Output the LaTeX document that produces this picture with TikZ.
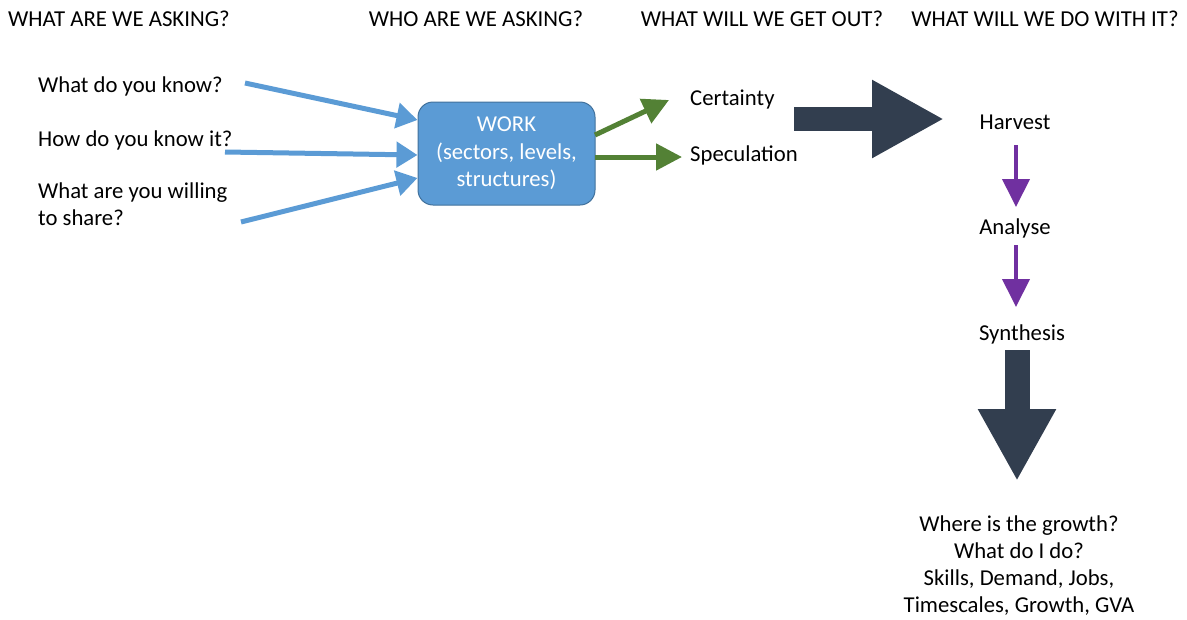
\documentclass[tikz,border=0pt]{standalone}
\usepackage{fontspec}
\setmainfont{Carlito}
\usetikzlibrary{arrows.meta}
\definecolor{blueA}{HTML}{5B9BD5}
\definecolor{blueB}{HTML}{41719C}
\definecolor{greenA}{HTML}{538135}
\definecolor{purpA}{HTML}{7030A0}
\definecolor{darkA}{HTML}{323E4F}
\tikzset{
  txt/.style={inner sep=0pt, font=\fontsize{22.7}{27}\selectfont, text=black},
  hdr/.style={inner sep=0pt, font=\fontsize{22.8}{26}\selectfont, text=black},
  bluearr/.style={draw=blueA, line width=5pt, -{Triangle[length=21pt,width=25pt]}},
  greenarr/.style={draw=greenA, line width=5pt, -{Triangle[length=26pt,width=26pt]}},
  purparr/.style={draw=purpA, line width=4pt, -{Triangle[length=28pt,width=27pt]}},
  bigarr/.style={draw=darkA, line width=24pt, -{Triangle[length=72pt,width=73pt]}},
  workbox/.style={fill=blueA, draw=blueB, line width=1pt, rounded corners=15pt,
    minimum width=177pt, minimum height=103pt, align=center, text=white,
    font=\fontsize{22.7}{27.5}\selectfont}
}
\begin{document}
\begin{tikzpicture}[x=1pt,y=-1pt]
\useasboundingbox (0,0) rectangle (1187,619);
% headers
\node[hdr, anchor=west] (h1) at (8,19) {WHAT ARE WE ASKING?};
\node[hdr] (h2) at (476,19) {WHO ARE WE ASKING?};
\node[hdr] (h3) at (762,19) {WHAT WILL WE GET OUT?};
\node[hdr] (h4) at (1045,19) {WHAT WILL WE DO WITH IT?};
% questions
\node[txt, anchor=west] (q1) at (38,86) {What do you know?};
\node[txt, anchor=west] (q2) at (38,140) {How do you know it?};
\node[txt, anchor=north west, align=left] (q3) at (38,183) {What are you willing\\to share?};
% work box
\node[workbox] (work) at (506.5,153.5) {WORK\\(sectors, levels,\\structures)};
% outputs
\node[txt, anchor=west] (cert) at (690,100) {Certainty};
\node[txt, anchor=west] (spec) at (690,155) {Speculation};
% right column
\node[txt] (harv) at (1015,122) {Harvest};
\node[txt] (anal) at (1015,228) {Analyse};
\node[txt] (synt) at (1022,334) {Synthesis};
\node[txt, align=center] (res) at (1019,566)
  {Where is the growth?\\What do I do?\\Skills, Demand, Jobs,\\Timescales, Growth, GVA};
% connector coordinates
\coordinate (b1s) at (245,83);
\coordinate (b2s) at (225,152);
\coordinate (b3s) at (241,222);
\coordinate (g1s) at (595,135);
\coordinate (g1e) at (669,100);
\coordinate (g2s) at (595,157);
\coordinate (g2e) at (682,157);
\coordinate (rs) at (794,119);
\coordinate (re) at (944,119);
\coordinate (p1s) at (1016,145);
\coordinate (p1e) at (1016,207);
\coordinate (p2s) at (1016,245);
\coordinate (p2e) at (1016,307);
\coordinate (ds) at (1017,350);
\coordinate (de) at (1017,481);
% connectors
\draw[bluearr] (b1s) -- (work.west |- 0,120);
\draw[bluearr] (b2s) -- (work.west |- 0,155);
\draw[bluearr] (b3s) -- (work.west |- 0,178);
\draw[greenarr] (g1s) -- (g1e);
\draw[greenarr] (g2s) -- (g2e);
\draw[bigarr] (rs) -- (re);
\draw[purparr] (p1s) -- (p1e);
\draw[purparr] (p2s) -- (p2e);
\draw[bigarr, line width=25pt] (ds) -- (de);
\end{tikzpicture}
\end{document}
